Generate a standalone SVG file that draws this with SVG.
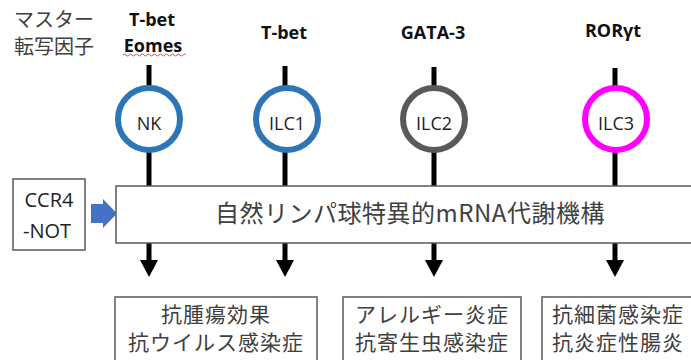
<svg xmlns="http://www.w3.org/2000/svg" width="691" height="360" viewBox="0 0 691 360">
<style>
.jp{font-family:"Noto Sans CJK JP","Noto Sans",sans-serif;fill:#404040}
.tf{font-family:"Open Sans","Liberation Sans",sans-serif;font-weight:bold;font-size:18px;fill:#111;text-anchor:middle}
.lbl{font-family:"Open Sans","Liberation Sans",sans-serif;font-size:18px;fill:#222;text-anchor:middle}
.ring{fill:#fff;stroke-width:6}
.box{fill:#fff;stroke:#595959;stroke-width:1.5}
.stem{stroke:#000;stroke-width:5;fill:none}
.head{fill:#000}
.out{font-family:"Noto Sans CJK JP","Noto Sans",sans-serif;font-size:21px;fill:#404040;text-anchor:middle;letter-spacing:1px}
</style>
<g id="header">
<text class="jp" x="14" y="27" font-size="20">マスター</text>
<text class="jp" x="14" y="54" font-size="20">転写因子</text>
</g>
<g id="connectors">
<line class="stem" x1="149" y1="65" x2="149" y2="90"/>
<line class="stem" x1="285" y1="66" x2="285" y2="90"/>
<line class="stem" x1="434" y1="67" x2="434" y2="90"/>
<line class="stem" x1="615" y1="68" x2="615" y2="90"/>
<line class="stem" x1="149" y1="150" x2="149" y2="190"/>
<line class="stem" x1="285" y1="150" x2="285" y2="190"/>
<line class="stem" x1="434" y1="150" x2="434" y2="190"/>
<line class="stem" x1="615" y1="150" x2="615" y2="190"/>
<line class="stem" x1="149" y1="243" x2="149" y2="262"/>
<polygon class="head" points="140,260 158,260 149,277"/>
<line class="stem" x1="285" y1="243" x2="285" y2="262"/>
<polygon class="head" points="276,260 294,260 285,277"/>
<line class="stem" x1="434" y1="243" x2="434" y2="262"/>
<polygon class="head" points="425,260 443,260 434,277"/>
<line class="stem" x1="615" y1="243" x2="615" y2="262"/>
<polygon class="head" points="606,260 624,260 615,277"/>
<path d="M91,204 L103,204 L103,199 L117,213.5 L103,228 L103,223 L91,223 z" fill="#4472C4"/>
</g>
<g id="tf-nk">
<text class="tf" x="152" y="26">T-bet</text>
<text class="tf" x="153" y="52">Eomes</text>
<path d="M123,55 q1.5,-2 3,0 t3,0 t3,0 t3,0 t3,0 t3,0 t3,0 t3,0 t3,0 t3,0 t3,0 t3,0 t3,0 t3,0 t3,0 t3,0 t3,0 t3,0 t3,0 t3,0 t3,0" fill="none" stroke="#e03030" stroke-width="0.9"/>
</g>
<g id="tf-ilc1"><text class="tf" x="284" y="39">T-bet</text></g>
<g id="tf-ilc2"><text class="tf" x="433" y="39">GATA-3</text></g>
<g id="tf-ilc3"><text class="tf" x="613" y="37">RORγt</text></g>
<g id="node-nk">
<circle class="ring" cx="149" cy="119" r="31" stroke="#2E75B6"/>
<text class="lbl" x="149" y="130">NK</text>
</g>
<g id="node-ilc1">
<circle class="ring" cx="287" cy="119" r="31" stroke="#2E75B6"/>
<text class="lbl" x="287" y="130">ILC1</text>
</g>
<g id="node-ilc2">
<circle class="ring" cx="434" cy="119" r="31" stroke="#595959"/>
<text class="lbl" x="434" y="130">ILC2</text>
</g>
<g id="node-ilc3">
<circle class="ring" cx="616" cy="119" r="31" stroke="#FF00FF"/>
<text class="lbl" x="616" y="130">ILC3</text>
</g>
<g id="node-ccr4">
<rect class="box" x="13" y="179" width="72" height="71"/>
<text class="lbl" x="49" y="207" style="font-size:20px">CCR4</text>
<text class="lbl" x="47" y="238" style="font-size:20px">-NOT</text>
</g>
<g id="node-mrna">
<rect class="box" x="116" y="186" width="590" height="57"/>
<text class="jp" x="410" y="222" font-size="24" text-anchor="middle" letter-spacing="0.5">自然リンパ球特異的mRNA代謝機構</text>
</g>
<g id="out-1">
<rect class="box" x="115" y="297" width="202" height="80"/>
<text class="out" x="216" y="322">抗腫瘍効果</text>
<text class="out" x="216" y="350">抗ウイルス感染症</text>
</g>
<g id="out-2">
<rect class="box" x="343" y="297" width="178" height="80"/>
<text class="out" x="432" y="322">アレルギー炎症</text>
<text class="out" x="432" y="350">抗寄生虫感染症</text>
</g>
<g id="out-3">
<rect class="box" x="542" y="297" width="160" height="80"/>
<text class="out" x="618" y="322">抗細菌感染症</text>
<text class="out" x="618" y="350">抗炎症性腸炎</text>
</g>
</svg>
